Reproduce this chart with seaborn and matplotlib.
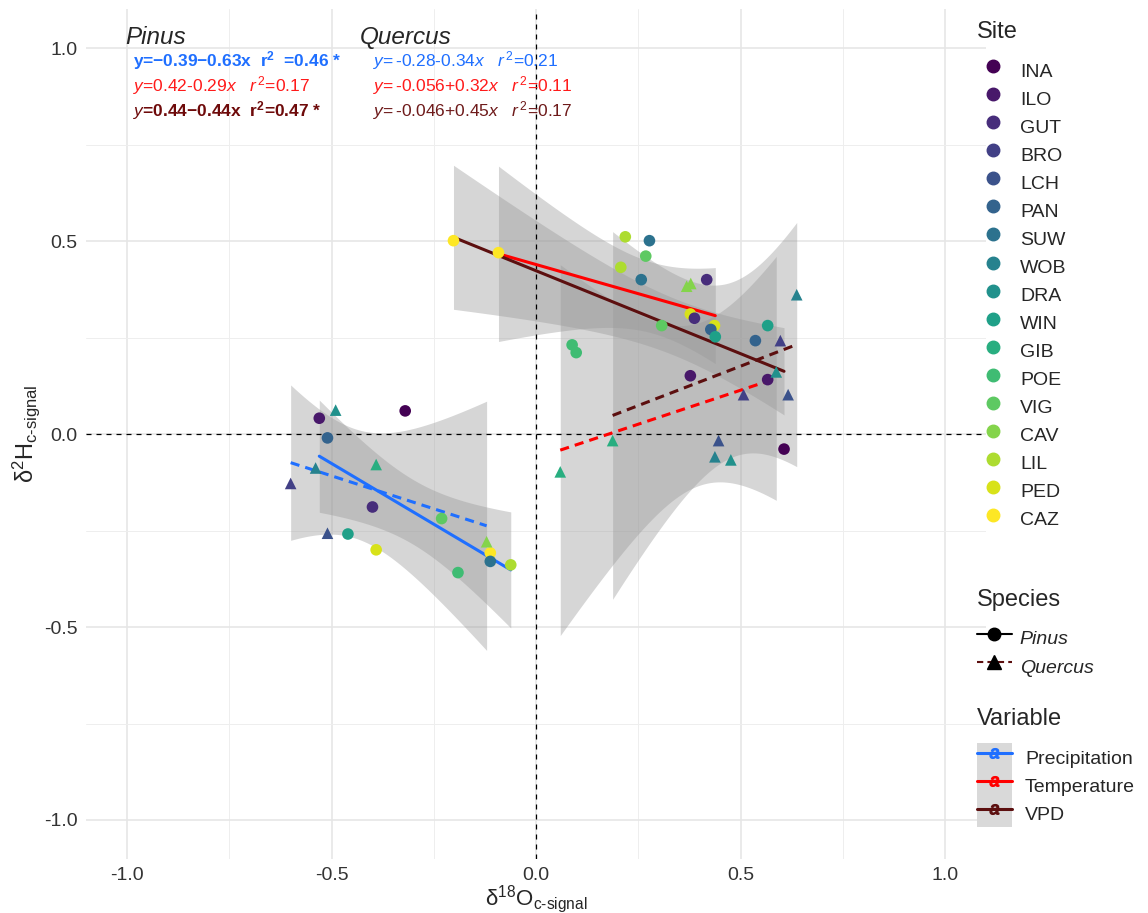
import matplotlib
matplotlib.use("Agg")
import matplotlib as mpl
import matplotlib.pyplot as plt
import numpy as np
import pandas as pd
import seaborn as sns
from matplotlib.lines import Line2D
from matplotlib.patches import Patch
from matplotlib.legend_handler import HandlerTuple

# Sites (legend order) and variables
sites = ["INA", "ILO", "GUT", "BRO", "LCH", "PAN", "SUW", "WOB", "DRA",
         "WIN", "GIB", "POE", "VIG", "CAV", "LIL", "PED", "CAZ"]
variables = ["Precipitation", "Temperature", "VPD"]
var_colors = {"Precipitation": "#1f6fff", "Temperature": "#ff0000", "VPD": "#5c0f0f"}

# Pinus - precipitation
pin_prec_site = ["ILO", "INA", "PAN", "GUT", "WIN", "PED", "VIG", "POE", "CAZ", "SUW", "LIL"]
pin_prec_o = [-0.530, -0.320, -0.510, -0.400, -0.460, -0.391, -0.231, -0.191, -0.112, -0.112, -0.062]
pin_prec_h = [0.041, 0.060, -0.010, -0.189, -0.259, -0.300, -0.219, -0.359, -0.308, -0.330, -0.339]

# Quercus - precipitation
que_prec_site = ["DRA", "WOB", "GIB", "BRO", "LCH", "CAV"]
que_prec_o = [-0.490, -0.539, -0.391, -0.600, -0.510, -0.121]
que_prec_h = [0.062, -0.088, -0.079, -0.128, -0.257, -0.279]

# Pinus - temperature
pin_temp_site = ["CAZ", "LIL", "SUW", "VIG", "PED", "POE", "PAN", "WIN", "ILO", "GUT"]
pin_temp_o = [-0.092, 0.218, 0.277, 0.268, 0.436, 0.088, 0.427, 0.438, 0.377, 0.417]
pin_temp_h = [0.470, 0.511, 0.501, 0.461, 0.281, 0.231, 0.271, 0.252, 0.151, 0.400]

# Pinus - VPD
pin_vpd_site = ["CAZ", "LIL", "SUW", "VIG", "PED", "POE", "GUT", "WIN", "PAN", "ILO", "INA"]
pin_vpd_o = [-0.202, 0.207, 0.257, 0.307, 0.377, 0.098, 0.387, 0.566, 0.536, 0.566, 0.606]
pin_vpd_h = [0.501, 0.432, 0.400, 0.281, 0.311, 0.211, 0.300, 0.281, 0.242, 0.141, -0.039]

# Quercus - temperature
que_temp_site = ["GIB", "CAV", "WOB", "LCH", "BRO", "DRA"]
que_temp_o = [0.059, 0.368, 0.437, 0.446, 0.507, 0.587]
que_temp_h = [-0.098, 0.383, -0.059, -0.017, 0.102, 0.161]

# Quercus - VPD
que_vpd_site = ["GIB", "CAV", "DRA", "BRO", "LCH", "WOB"]
que_vpd_o = [0.187, 0.378, 0.476, 0.597, 0.616, 0.637]
que_vpd_h = [-0.017, 0.390, -0.067, 0.242, 0.102, 0.361]

# fit labels (text shown on the chart)
pinus_eqs = [r"$\mathbf{y}$=−0.39−0.63$\mathbf{x}$  $\mathbf{r^2}$  =0.46 *",
             r"$y$=0.42-0.29$x$   $r^{\,2}$=0.17",
             r"$y$=0.44−0.44$\mathbf{x}$  $\mathbf{r^2}$=0.47 *"]
pinus_bold = [True, False, True]
quercus_eqs = [r"$y$=$\,$-0.28-0.34$x$   $r^{\,2}$=0.21",
               r"$y$=$\,$-0.056+0.32$x$   $r^{\,2}$=0.11",
               r"$y$=$\,$-0.046+0.45$x$   $r^{\,2}$=0.17"]
eq_colors = ["#1f6fff", "#ff1a1a", "#6e0a0a"]
quercus_eq_colors = ["#1f6fff", "#ff1a1a", "#6e1a1a"]

frames = []
for sp, var, st, o, h in [
        ("Pinus", "Precipitation", pin_prec_site, pin_prec_o, pin_prec_h),
        ("Quercus", "Precipitation", que_prec_site, que_prec_o, que_prec_h),
        ("Pinus", "Temperature", pin_temp_site, pin_temp_o, pin_temp_h),
        ("Pinus", "VPD", pin_vpd_site, pin_vpd_o, pin_vpd_h),
        ("Quercus", "Temperature", que_temp_site, que_temp_o, que_temp_h),
        ("Quercus", "VPD", que_vpd_site, que_vpd_o, que_vpd_h)]:
    frames.append(pd.DataFrame({"Site": st, "Species": sp, "Variable": var,
                                "d18O": o, "d2H": h}))
df = pd.concat(frames, ignore_index=True)

sns.set_style("white")
plt.rcParams["font.family"] = ["Liberation Sans", "DejaVu Sans"]
plt.rcParams["mathtext.fontset"] = "custom"
plt.rcParams["mathtext.rm"] = "Liberation Sans"
plt.rcParams["mathtext.it"] = "Liberation Sans:italic"
plt.rcParams["mathtext.bf"] = "Liberation Sans:bold"

site_colors = [mpl.colormaps["viridis"](i / (len(sites) - 1)) for i in range(len(sites))]
site_pal = dict(zip(sites, site_colors))

fig = plt.figure(figsize=(11.48, 9.13), dpi=100)
ax = fig.add_axes([0.075, 0.0596, 0.784, 0.930])

# t quantiles (0.975) for small samples
try:
    from scipy import stats
    tq = lambda d: stats.t.ppf(0.975, d)
except Exception:
    tq = lambda d: {4: 2.776, 8: 2.306, 9: 2.262}[d]

# linear fits with 95% confidence band, one per species x variable
for (sp, var), g in df.groupby(["Species", "Variable"]):
    x = g["d18O"].to_numpy()
    y = g["d2H"].to_numpy()
    n = len(x)
    b1, b0 = np.polyfit(x, y, 1)
    resid = y - (b0 + b1 * x)
    s = np.sqrt(np.sum(resid ** 2) / (n - 2))
    sxx = np.sum((x - x.mean()) ** 2)
    xs = np.linspace(x.min(), x.max(), 100)
    yh = b0 + b1 * xs
    se = s * np.sqrt(1 / n + (xs - x.mean()) ** 2 / sxx)
    ax.fill_between(xs, yh - tq(n - 2) * se, yh + tq(n - 2) * se,
                    color="#999999", alpha=0.4, lw=0, zorder=1)
    ls = "-" if sp == "Pinus" else (0, (3, 2))
    ax.plot(xs, yh, color=var_colors[var], lw=2.2, ls=ls, zorder=2)

sns.scatterplot(data=df, x="d18O", y="d2H", hue="Site", hue_order=sites,
                palette=site_pal, style="Species",
                markers={"Pinus": "o", "Quercus": "^"}, s=70, linewidth=0,
                legend=False, ax=ax, zorder=3)

ax.axhline(0, color="black", lw=0.9, ls=(0, (4, 4)), zorder=1.5)
ax.axvline(0, color="black", lw=0.9, ls=(0, (4, 4)), zorder=1.5)

ax.set_xlim(-1.1, 1.1)
ax.set_ylim(-1.1, 1.1)
ax.set_xticks([-1.0, -0.5, 0.0, 0.5, 1.0])
ax.set_yticks([-1.0, -0.5, 0.0, 0.5, 1.0])
ax.set_xticks([-0.75, -0.25, 0.25, 0.75], minor=True)
ax.set_yticks([-0.75, -0.25, 0.25, 0.75], minor=True)
ax.set_xticklabels(["-1.0", "-0.5", "0.0", "0.5", "1.0"])
ax.set_yticklabels(["-1.0", "-0.5", "0.0", "0.5", "1.0"])
ax.grid(which="major", color="#e6e6e6", lw=1.2, zorder=0)
ax.grid(which="minor", color="#eeeeee", lw=0.7, zorder=0)
ax.set_axisbelow(True)
ax.tick_params(which="both", length=0, labelsize=14, colors="#333333")
ax.tick_params(axis="x", pad=6)
ax.tick_params(axis="y", pad=6)
for sp_ in ax.spines.values():
    sp_.set_visible(False)

ax.set_xlabel(r"δ$^{18}$O$_{\mathregular{c\text{-}signal}}$", fontsize=16, va="top")
ax.set_ylabel(r"δ$^{2}$H$_{\mathregular{c\text{-}signal}}$", fontsize=17)
ax.xaxis.set_label_coords(0.5, -0.029)
ax.yaxis.set_label_coords(-0.049, 0.5)

# species headers and fit equations
ax.text(-1.005, 1.028, "Pinus", fontsize=17.5, style="italic", va="center")
ax.text(-0.43, 1.028, "Quercus", fontsize=17.5, style="italic", va="center")
eq_y = [0.969, 0.902, 0.837]
for i in range(3):
    ax.text(-0.985, eq_y[i], pinus_eqs[i], color=eq_colors[i], fontsize=12.5,
            fontweight="bold" if pinus_bold[i] else "normal", va="center")
    ax.text(-0.399, eq_y[i], quercus_eqs[i], color=quercus_eq_colors[i],
            fontsize=12.5, va="center")

# legends
common = dict(loc="upper left", frameon=False, fontsize=14, title_fontsize=17,
              labelspacing=0, handleheight=1.84, borderpad=0.2,
              alignment="left", borderaxespad=0)

site_handles = [Line2D([], [], ls="", marker="o", ms=9, color=c) for c in site_colors]
leg1 = fig.legend(site_handles, sites, title="Site", bbox_to_anchor=(0.8476, 0.9815),
                  handlelength=1.65, handletextpad=0.57, **common)

sp_handles = [Line2D([], [], color="black", lw=1.5, marker="o", ms=9),
              Line2D([], [], color="#5c0f0f", lw=1.5, ls=(0, (3, 2)), marker="^",
                     ms=10, mfc="black", mec="black")]
leg2 = fig.legend(sp_handles, ["Pinus", "Quercus"], title="Species",
                  bbox_to_anchor=(0.8476, 0.3594), handlelength=1.8,
                  handletextpad=0.41, prop={"style": "italic", "size": 14}, **common)

var_handles = [(Patch(facecolor="#d9d9d9", edgecolor="none"),
                Line2D([], [], color=var_colors[v], lw=2.2, marker="$a$", ms=7))
               for v in variables]
leg3 = fig.legend(var_handles, variables, title="Variable",
                  bbox_to_anchor=(0.8476, 0.229), handlelength=1.8,
                  handletextpad=0.67,
                  handler_map={tuple: HandlerTuple(ndivide=1, pad=0)}, **common)

# gap between legend title and its keys
for lg in (leg1, leg2, leg3):
    lg._legend_box.sep = 9.7

fig.savefig("out.png", dpi=100)
